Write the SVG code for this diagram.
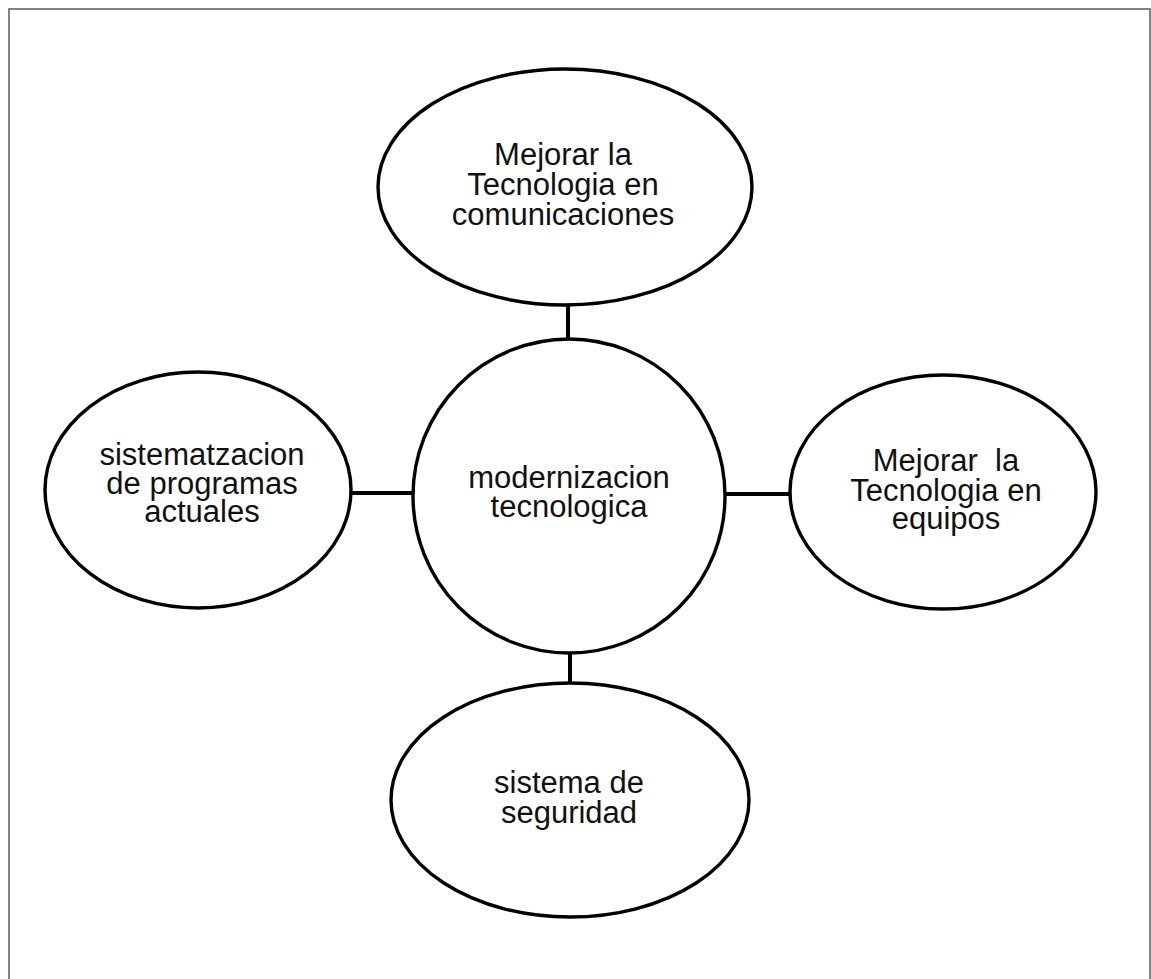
<svg xmlns="http://www.w3.org/2000/svg" width="1151" height="979" viewBox="0 0 1151 979">
  <style>
    .node { fill: #ffffff; stroke: #000000; stroke-width: 3.4; }
    .link { stroke: #000000; stroke-width: 4; fill: none; }
    .label { font-family: "Liberation Sans", Arial, sans-serif; font-size: 31px; fill: #111111; text-anchor: middle; }
  </style>
  <rect x="0" y="0" width="1151" height="979" fill="#ffffff"/>
  <!-- page frame -->
  <rect x="9" y="9" width="1141" height="1000" fill="none" stroke="#666666" stroke-width="1.6"/>

  <g id="connectors">
    <line class="link" x1="568" y1="304" x2="568" y2="340"/>
    <line class="link" x1="351" y1="493" x2="414" y2="493"/>
    <line class="link" x1="724" y1="494" x2="791" y2="494"/>
    <line class="link" x1="570" y1="652" x2="570" y2="684"/>
  </g>

  <g id="node-comunicaciones">
    <ellipse class="node" cx="565" cy="187" rx="187" ry="118"/>
    <text class="label" x="563" y="165">Mejorar la</text>
    <text class="label" x="563" y="195">Tecnologia en</text>
    <text class="label" x="563" y="225">comunicaciones</text>
  </g>

  <g id="node-modernizacion">
    <ellipse class="node" cx="569" cy="496" rx="156" ry="157"/>
    <text class="label" x="569" y="488">modernizacion</text>
    <text class="label" x="569" y="517">tecnologica</text>
  </g>

  <g id="node-sistematizacion">
    <ellipse class="node" cx="198" cy="490" rx="153" ry="118"/>
    <text class="label" x="202" y="465">sistematzacion</text>
    <text class="label" x="202" y="494">de programas</text>
    <text class="label" x="202" y="522">actuales</text>
  </g>

  <g id="node-equipos">
    <ellipse class="node" cx="943" cy="492" rx="153" ry="117"/>
    <text class="label" x="946" y="471" xml:space="preserve">Mejorar  la</text>
    <text class="label" x="946" y="501">Tecnologia en</text>
    <text class="label" x="946" y="529">equipos</text>
  </g>

  <g id="node-seguridad">
    <ellipse class="node" cx="570" cy="800" rx="179" ry="117"/>
    <text class="label" x="569" y="793">sistema de</text>
    <text class="label" x="569" y="823">seguridad</text>
  </g>
</svg>
